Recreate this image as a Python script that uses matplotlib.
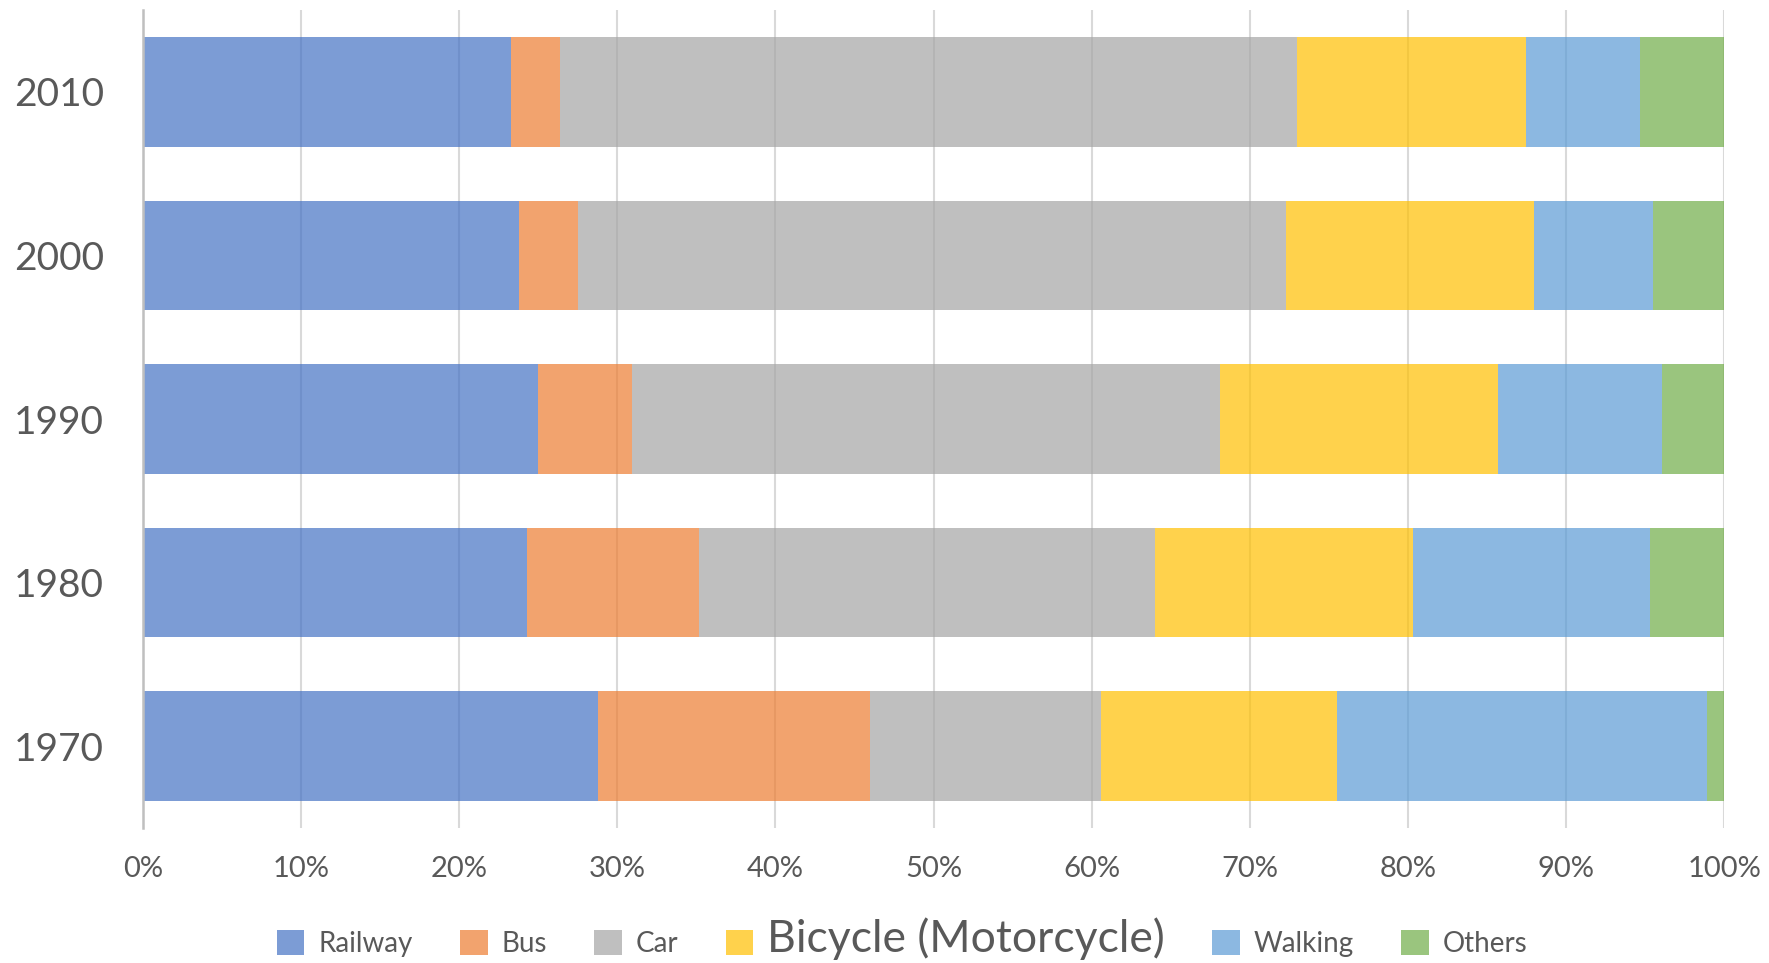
import matplotlib
matplotlib.use('Agg')
import matplotlib.pyplot as plt
import numpy as np

# Parts des modes de transport (%) par année
years = ['1970', '1980', '1990', '2000', '2010']
modes = ['Railway', 'Bus', 'Car', 'Bicycle (Motorcycle)', 'Walking', 'Others']
railway = [28.8, 24.3, 25.0, 23.8, 23.3]
bus = [17.2, 10.9, 5.9, 3.7, 3.1]
car = [14.6, 28.8, 37.2, 44.8, 46.6]
bicycle = [14.9, 16.3, 17.6, 15.7, 14.5]
walking = [23.4, 15.0, 10.4, 7.5, 7.2]
others = [1.1, 4.7, 3.9, 4.5, 5.3]

# couleurs Excel, 30% de transparence
colors = ['#4472C4', '#ED7D31', '#A5A5A5', '#FFC000', '#5B9BD5', '#70AD47']
text_color = '#595959'

plt.rcParams['font.family'] = ['Lato', 'DejaVu Sans']

fig = plt.figure(figsize=(17.69, 9.63), dpi=100)
ax = fig.add_axes([0.0808, 0.1402, 0.8938, 0.8494])

series = [railway, bus, car, bicycle, walking, others]
y = np.arange(len(years))
left = np.zeros(len(years))
for vals, name, c in zip(series, modes, colors):
    ax.barh(y, vals, left=left, height=0.67, color=c, alpha=0.7, label=name, zorder=2)
    left += np.array(vals)

ax.set_xlim(0, 100)
ax.set_ylim(-0.5, len(years) - 0.5)
ax.set_yticks(y)
ax.set_yticklabels(years)
ax.set_xticks(np.arange(0, 101, 10))
ax.set_xticklabels([f'{v}%' for v in range(0, 101, 10)])
ax.tick_params(axis='x', length=0, pad=20, labelsize=21, labelcolor=text_color)
ax.tick_params(axis='y', length=0, pad=28, labelsize=28, labelcolor=text_color)

for v in range(10, 101, 10):
    ax.axvline(v, color='#D9D9D9', lw=1.5, zorder=1)

for s in ['top', 'right', 'bottom']:
    ax.spines[s].set_visible(False)
ax.spines['left'].set_color('#BFBFBF')
ax.spines['left'].set_linewidth(1.8)
ax.spines['left'].set_zorder(3)

handles, labels = ax.get_legend_handles_labels()
leg = fig.legend(handles, labels, loc='center', bbox_to_anchor=(0.51, 0.025),
                 ncol=6, frameon=False, fontsize=20, handlelength=1.0,
                 handleheight=1.0, handletextpad=0.5, columnspacing=1.7,
                 labelcolor=text_color)
leg.get_texts()[3].set_fontsize(32)

fig.savefig('out.png', dpi=100)
